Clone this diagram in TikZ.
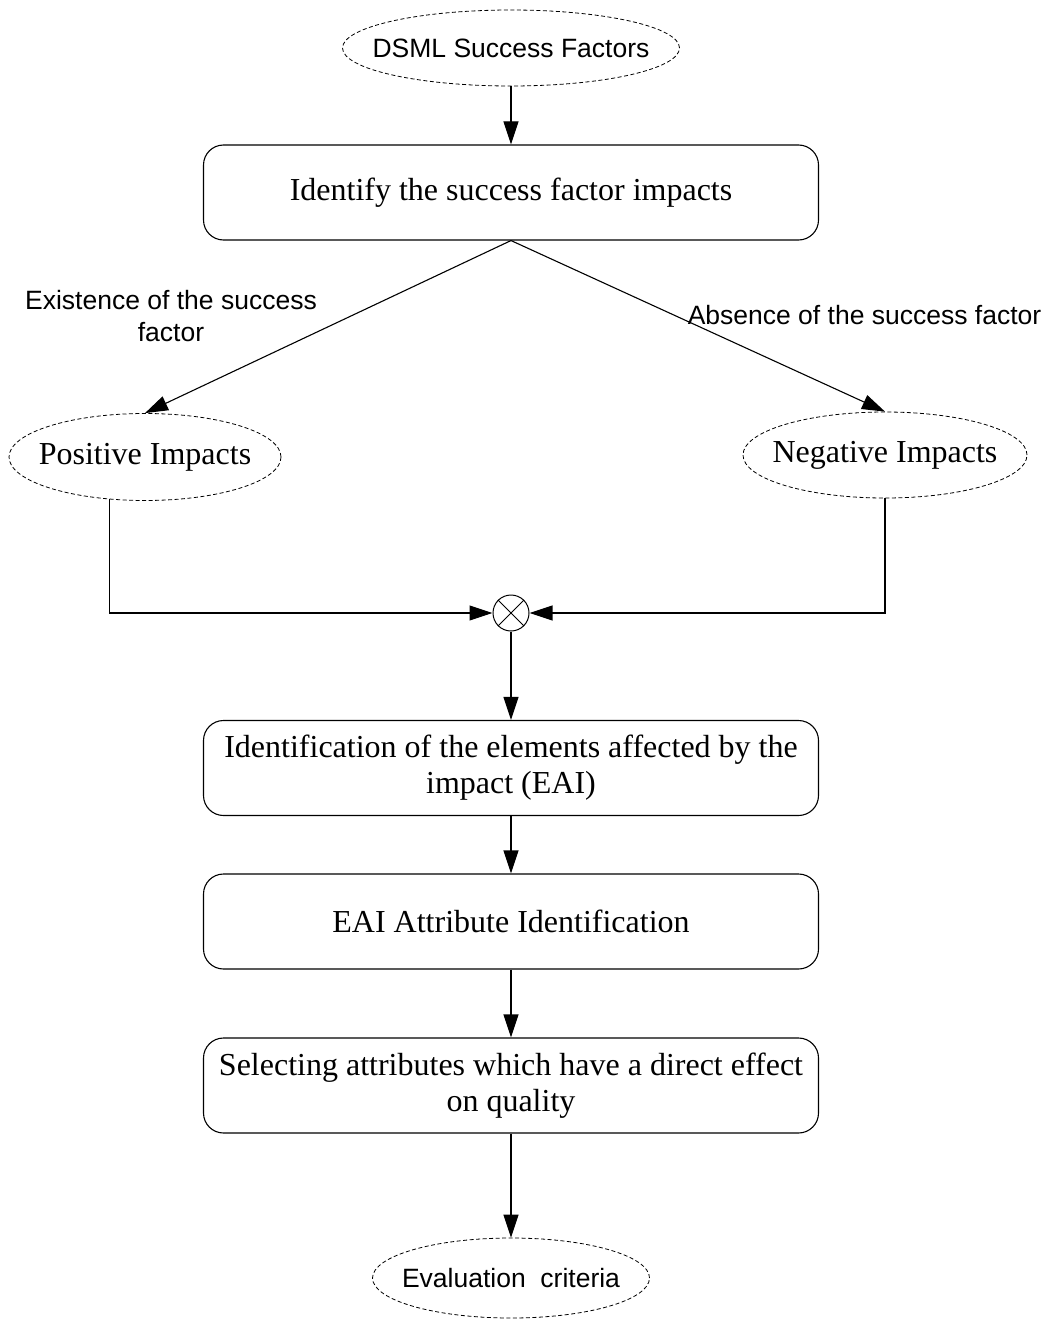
\documentclass[tikz,border=0pt]{standalone}
\usepackage{fontspec}
\setmainfont{Liberation Serif}
\setsansfont{Liberation Sans}
\usetikzlibrary{arrows.meta,shapes.geometric}
\begin{document}
\begin{tikzpicture}[x=1pt,y=-1pt,
  proc/.style={draw, line width=1.1pt, rounded corners=20pt, minimum width=615pt,
    minimum height=95pt, align=center, inner sep=0pt,
    font=\fontsize{32}{36}\selectfont},
  oval/.style={draw, ellipse, line width=0.8pt, dash pattern=on 4pt off 2.5pt, inner sep=0pt},
  ovaltext/.style={font=\fontsize{32}{36}\selectfont, inner sep=0pt},
  sfl/.style={font=\sffamily\fontsize{26.5}{32}\selectfont, align=center, inner sep=0pt},
  arr/.style={-{Triangle[length=23pt,width=15pt]}, line width=1.1pt},
  ln/.style={line width=1.1pt}
]
\useasboundingbox (0,0) rectangle (1050,1319);

% ellipses
\node[oval, minimum width=337pt, minimum height=76pt] (dsml) at (511,48) {};
\node[sfl] (dsmlt) at (dsml.center) {DSML Success Factors};

\node[oval, minimum width=272pt, minimum height=87pt] (pos) at (145,457) {};
\node[ovaltext] (post) at (pos.center) {Positive Impacts};

\node[oval, minimum width=284pt, minimum height=86pt] (neg) at (885,455) {};
\node[ovaltext] (negt) at (neg.center) {Negative Impacts};

\node[oval, minimum width=277pt, minimum height=80pt] (eval) at (511,1278) {};
\node[sfl] (evalt) at (eval.center) {Evaluation\ \ criteria};

% boxes
\node[proc] (b1) at (511,192.5) {Identify the success factor impacts};
\node[proc] (b2) at (511,768) {Identification of the elements affected by the\\impact (EAI)};
\node[proc] (b3) at (511,921.5) {EAI Attribute Identification};
\node[proc] (b4) at (511,1085.5) {Selecting attributes which have a direct effect\\on quality};

% junction
\node[draw, circle, line width=1pt, minimum size=36pt, inner sep=0pt] (mix) at (511,613) {};
\draw[line width=0.9pt] (mix.45) -- (mix.225) (mix.135) -- (mix.315);

% labels
\node[sfl] (lex) at (171,316) {Existence of the success\\factor};
\node[sfl] (lab) at (864.5,315) {Absence of the success factor};

% connectors
\draw[arr] (dsml.south) -- (b1.north);
\draw[arr] (b1.south) -- (pos.north);
\draw[arr] (b1.south) -- (neg.north);
\draw[arr] (pos.230) |- (mix.west);
\draw[arr] (neg.south) |- (mix.east);
\draw[arr] (mix.south) -- (b2.north);
\draw[arr] (b2.south) -- (b3.north);
\draw[arr] (b3.south) -- (b4.north);
\draw[arr] (b4.south) -- (eval.north);
\end{tikzpicture}
\end{document}
